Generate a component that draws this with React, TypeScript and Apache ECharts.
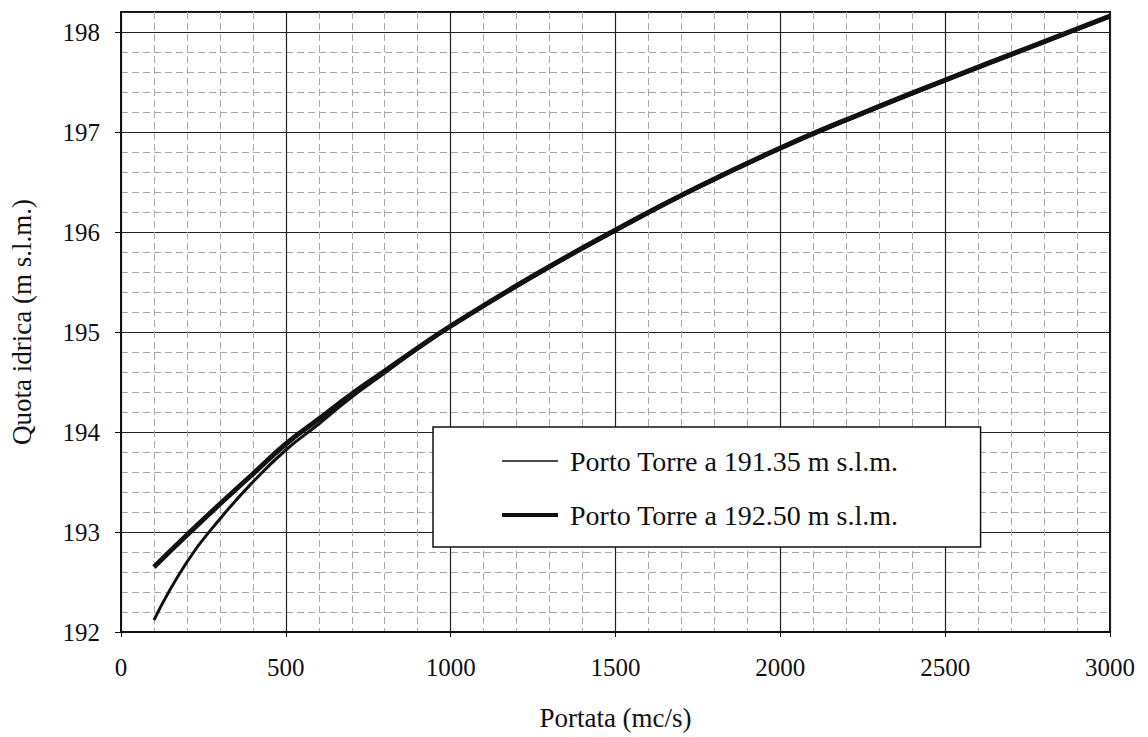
import React, { useEffect, useRef } from "react";
import * as echarts from "echarts";

const discharge = [100, 200, 300, 400, 500, 600, 700, 800, 900, 1000, 1250, 1500, 1750, 2000, 2250, 2500, 2750, 3000];
const level19135 = [192.12, 192.7, 193.13, 193.5, 193.82, 194.08, 194.35, 194.59, 194.83, 195.05, 195.55, 196.01, 196.44, 196.83, 197.18, 197.51, 197.83, 198.15];
const level19250 = [192.65, 192.97, 193.28, 193.58, 193.88, 194.13, 194.38, 194.61, 194.84, 195.06, 195.56, 196.02, 196.45, 196.84, 197.19, 197.52, 197.84, 198.16];
const seriesNames = ["Porto Torre a 191.35 m s.l.m.", "Porto Torre a 192.50 m s.l.m."];
const xTitle = "Portata (mc/s)";
const yTitle = "Quota idrica (m s.l.m.)";

const FONT = "Liberation Serif";

export default function App() {
  const ref = useRef<HTMLDivElement>(null);
  useEffect(() => {
    if (!ref.current) return;
    const chart = echarts.init(ref.current, null, { renderer: "svg" });
    const zip = (ys: number[]) => discharge.map((x, i) => [x, ys[i]]);
    chart.setOption({
      animation: false,
      backgroundColor: "#fff",
      color: ["#111", "#111"],
      textStyle: { fontFamily: FONT, color: "#111" },
      grid: {
        left: 121,
        top: 12,
        right: 38,
        bottom: 105,
        show: true,
        borderColor: "#111",
        borderWidth: 2,
        backgroundColor: "transparent",
      },
      legend: {
        orient: "vertical",
        left: 433,
        top: 427,
        backgroundColor: "#fff",
        borderColor: "#111",
        borderWidth: 1.5,
        borderRadius: 0,
        padding: [20, 82, 18, 67],
        itemWidth: 56,
        itemHeight: 20,
        itemGap: 26,
        itemStyle: { opacity: 0 },
        textStyle: { fontFamily: FONT, fontSize: 28, color: "#111", padding: [0, 0, 0, 7] },
        data: [
          { name: seriesNames[0], itemStyle: { opacity: 0 }, lineStyle: { width: 1.5, color: "#111" } },
          { name: seriesNames[1], itemStyle: { opacity: 0 }, lineStyle: { width: 4, color: "#111" } },
        ],
      },
      xAxis: {
        type: "value",
        min: 0,
        max: 3000,
        interval: 500,
        name: xTitle,
        nameLocation: "middle",
        nameGap: 72,
        nameTextStyle: { fontFamily: FONT, fontSize: 27, color: "#111" },
        axisLine: { show: true, lineStyle: { color: "#111", width: 2 } },
        axisTick: { show: true, length: 5, lineStyle: { color: "#111", width: 1 } },
        axisLabel: {
          fontFamily: FONT,
          fontSize: 25,
          color: "#111",
          margin: 23,
          formatter: (v: number) => String(v),
        },
        splitLine: { show: true, lineStyle: { color: "#222", width: 1.2 } },
        minorTick: { show: false, splitNumber: 5 },
        minorSplitLine: { show: true, lineStyle: { color: "#a8a8a8", width: 1, type: [7, 4] } },
      },
      yAxis: {
        type: "value",
        min: 192,
        max: 198.2,
        interval: 1,
        name: yTitle,
        nameLocation: "middle",
        nameGap: 86,
        nameTextStyle: { fontFamily: FONT, fontSize: 27, color: "#111" },
        axisLine: { show: true, lineStyle: { color: "#111", width: 2 } },
        axisTick: { show: true, length: 6, lineStyle: { color: "#111", width: 1 } },
        axisLabel: { fontFamily: FONT, fontSize: 25, color: "#111", margin: 21, showMaxLabel: false },
        splitLine: { show: true, lineStyle: { color: "#222", width: 1.2 } },
        minorTick: { show: false, splitNumber: 5 },
        minorSplitLine: { show: true, lineStyle: { color: "#a8a8a8", width: 1, type: [7, 4] } },
      },
      series: [
        {
          name: seriesNames[0],
          type: "line",
          data: zip(level19135),
          symbol: "none",
          smooth: 0.5,
          itemStyle: { color: "#111" },
          lineStyle: { color: "#111", width: 3 },
          z: 3,
        },
        {
          name: seriesNames[1],
          type: "line",
          data: zip(level19250),
          symbol: "none",
          smooth: 0.5,
          itemStyle: { color: "#111" },
          lineStyle: { color: "#111", width: 5 },
          z: 4,
        },
      ],
    });
    return () => chart.dispose();
  }, []);
  return (
    <div
      ref={ref}
      style={{ position: "fixed", left: 0, top: 0, width: 1148, height: 737 }}
    />
  );
}
